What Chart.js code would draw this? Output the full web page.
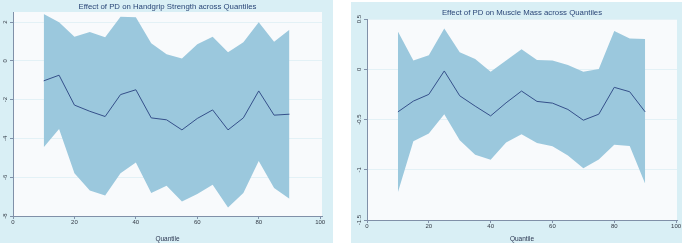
<!DOCTYPE html>
<html>
<head>
<meta charset="utf-8">
<script src="https://cdn.jsdelivr.net/npm/chart.js@4/dist/chart.umd.min.js"></script>
<style>
  body { margin: 0; background: #fff; width: 685px; height: 247px; position: relative; overflow: hidden; }
  .panel { position: absolute; background: #d9eff5; }
  #leftPanel { left: 0; top: 0; width: 333px; height: 243px; }
  #rightPanel { left: 351px; top: 2px; width: 331px; height: 241px; }
</style>
</head>
<body>
<div class="panel" id="leftPanel"><canvas id="gripChart" width="333" height="243"></canvas></div>
<div class="panel" id="rightPanel"><canvas id="massChart" width="331" height="241"></canvas></div>
<script>
const quantiles = [10, 15, 20, 25, 30, 35, 40, 45, 50, 55, 60, 65, 70, 75, 80, 85, 90];
const xTicks = [0, 20, 40, 60, 80, 100];

// handgrip strength
const gripEstimate = [-1.03, -0.74, -2.28, -2.6, -2.87, -1.74, -1.49, -2.94, -3.04, -3.56, -2.97, -2.53, -3.56, -2.94, -1.55, -2.8, -2.75];
const gripUpper = [2.42, 1.99, 1.25, 1.49, 1.22, 2.28, 2.25, 0.91, 0.34, 0.12, 0.86, 1.25, 0.45, 0.96, 1.99, 0.98, 1.6];
const gripLower = [-4.45, -3.51, -5.79, -6.68, -6.94, -5.79, -5.24, -6.82, -6.44, -7.25, -6.86, -6.39, -7.56, -6.82, -5.17, -6.56, -7.11];
const gripYTicks = [-8, -6, -4, -2, 0, 2];

// muscle mass
const massEstimate = [-0.424, -0.317, -0.25, -0.017, -0.264, -0.367, -0.464, -0.334, -0.217, -0.32, -0.337, -0.4, -0.507, -0.447, -0.18, -0.224, -0.424];
const massUpper = [0.376, 0.086, 0.14, 0.406, 0.17, 0.103, -0.024, 0.086, 0.2, 0.093, 0.086, 0.043, -0.024, 0.003, 0.38, 0.306, 0.3];
const massLower = [-1.224, -0.717, -0.64, -0.447, -0.707, -0.85, -0.9, -0.73, -0.647, -0.734, -0.767, -0.857, -0.984, -0.897, -0.75, -0.764, -1.14];
const massYTicks = [-1.5, -1, -0.5, 0, 0.5];

const BAND = 'rgb(155, 200, 221)';
const LINE = '#35508a';
const AXIS = '#8090a8';
const TEXT = '#333a45';
const TITLE = '#2a4677';

const plotBackground = {
  id: 'plotBackground',
  beforeDraw(chart) {
    const { ctx, chartArea } = chart;
    ctx.save();
    ctx.fillStyle = '#f8fafc';
    ctx.fillRect(chartArea.left, chartArea.top, chartArea.right - chartArea.left, chartArea.bottom - chartArea.top);
    ctx.restore();
  }
};

// y tick labels are vertical, stata style
const rotatedLabels = {
  id: 'rotatedLabels',
  afterDraw(chart, args, opts) {
    const { ctx, chartArea, scales } = chart;
    const y = scales.y;
    ctx.save();
    ctx.fillStyle = TEXT;
    ctx.font = '6px "Liberation Sans", Arial, sans-serif';
    ctx.textAlign = 'center';
    ctx.textBaseline = 'middle';
    y.ticks.forEach(t => {
      const py = y.getPixelForValue(t.value);
      ctx.save();
      ctx.translate(chartArea.left - opts.labelOffset, py);
      ctx.rotate(-Math.PI / 2);
      ctx.fillText(String(t.value), 0, 0);
      ctx.restore();
    });
    ctx.fillStyle = TITLE;
    ctx.font = '7.8px "Liberation Sans", Arial, sans-serif';
    ctx.textAlign = 'center';
    ctx.fillText(opts.title, (chartArea.left + chartArea.right) / 2, opts.titleY);
    ctx.restore();
  }
};

function makeChart(canvasId, cfg) {
  const ds = (data, extra) => Object.assign({
    data: quantiles.map((q, i) => ({ x: q, y: data[i] })),
    borderWidth: 0,
    pointRadius: 0,
    tension: 0,
    fill: false
  }, extra);

  return new Chart(document.getElementById(canvasId), {
    type: 'line',
    data: {
      datasets: [
        ds(cfg.upper, { fill: '+1', backgroundColor: BAND, borderColor: BAND }),
        ds(cfg.lower, { borderColor: BAND }),
        ds(cfg.estimate, { borderColor: LINE, borderWidth: 1 })
      ]
    },
    options: {
      responsive: false,
      animation: false,
      events: [],
      layout: { padding: cfg.padding },
      plugins: {
        legend: { display: false },
        tooltip: { enabled: false },
        filler: { drawTime: 'beforeDatasetsDraw' },
        rotatedLabels: { labelOffset: cfg.labelOffset, title: cfg.title, titleY: cfg.titleY }
      },
      scales: {
        x: {
          type: 'linear',
          min: 0,
          max: cfg.xMax,
          afterBuildTicks: s => { s.ticks = xTicks.map(v => ({ value: v })); },
          afterFit: s => { s.height = cfg.xHeight; },
          border: { color: AXIS, width: 1 },
          grid: { drawOnChartArea: false, tickLength: 3, tickColor: AXIS },
          ticks: { color: TEXT, font: { size: 6, family: '"Liberation Sans", Arial, sans-serif' }, padding: 0, maxRotation: 0 },
          title: { display: true, text: 'Quantile', color: '#2a3550', font: { size: 6.5, family: '"Liberation Sans", Arial, sans-serif' }, padding: { top: 1, bottom: 0 } }
        },
        y: {
          min: cfg.yMin,
          max: cfg.yMax,
          afterBuildTicks: s => { s.ticks = cfg.yTicks.map(v => ({ value: v })); },
          afterFit: s => { s.width = cfg.yWidth; },
          border: { color: AXIS, width: 1 },
          grid: { color: '#e3f1f6', lineWidth: 1, tickLength: 3, tickColor: AXIS },
          ticks: { display: false }
        }
      }
    },
    plugins: [plotBackground, rotatedLabels]
  });
}

makeChart('gripChart', {
  estimate: gripEstimate, upper: gripUpper, lower: gripLower, yTicks: gripYTicks,
  yMin: -8, yMax: 2.52, xMax: 100.6,
  padding: { top: 12, right: 11, bottom: 0, left: 0 },
  yWidth: 13, xHeight: 27, labelOffset: 8,
  title: 'Effect of PD on Handgrip Strength across Quantiles', titleY: 7
});

makeChart('massChart', {
  estimate: massEstimate, upper: massUpper, lower: massLower, yTicks: massYTicks,
  yMin: -1.5, yMax: 0.5, xMax: 100.3,
  padding: { top: 17, right: 5, bottom: 0, left: 0 },
  yWidth: 16, xHeight: 23, labelOffset: 8,
  title: 'Effect of PD on Muscle Mass across Quantiles', titleY: 11
});
</script>
</body>
</html>
